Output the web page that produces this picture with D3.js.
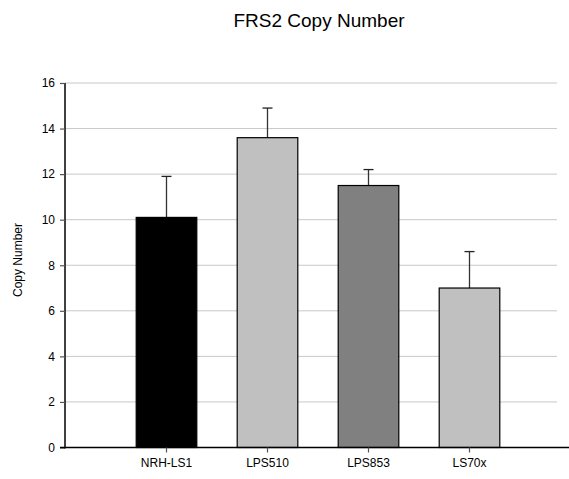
<!DOCTYPE html>
<html lang="en">
<head>
    <meta charset="utf-8">
    <title>FRS2 Copy Number</title>
    <script src="https://d3js.org/d3.v7.min.js"></script>
    <style>
        body { margin: 0; background: #fff; }
        svg { display: block; font-family: "Liberation Sans", Arial, sans-serif; }
    </style>
</head>
<body>
<script>
// data
var categories = ["NRH-LS1", "LPS510", "LPS853", "LS70x"];
var copyNumber = [10.1, 13.6, 11.5, 7.0];
var errorUp = [1.8, 1.3, 0.7, 1.6];
var barColors = ["#000000", "#c0c0c0", "#808080", "#c0c0c0"];
var yTicks = [0, 2, 4, 6, 8, 10, 12, 14, 16];

var width = 569, height = 479;
// plot edges (note: "top" is reserved on window, so use plot* names)
var plotLeft = 65, plotRight = 569, plotTop = 83, plotBottom = 447.5;

var svg = d3.select("body").append("svg")
    .attr("width", width)
    .attr("height", height);

var x = d3.scaleBand()
    .domain(categories)
    .range([116, 520])
    .paddingInner(0.4)
    .paddingOuter(0.2);

var y = d3.scaleLinear()
    .domain([0, 16])
    .range([plotBottom, plotTop]);

// gridlines
svg.append("g")
  .selectAll("line")
  .data(yTicks.filter(function(d){ return d > 0; }))
  .enter().append("line")
  .attr("x1", plotLeft).attr("x2", 557)
  .attr("y1", function(d){ return y(d); })
  .attr("y2", function(d){ return y(d); })
  .attr("stroke", "#c8c8c8")
  .attr("stroke-width", 1);

var rows = categories.map(function(c, i){
    return {name: c, v: copyNumber[i], e: errorUp[i], color: barColors[i]};
});

// error bars (behind bars)
var err = svg.append("g").selectAll("g").data(rows).enter().append("g");
err.append("line")
  .attr("x1", function(d){ return x(d.name) + x.bandwidth() / 2; })
  .attr("x2", function(d){ return x(d.name) + x.bandwidth() / 2; })
  .attr("y1", function(d){ return y(d.v); })
  .attr("y2", function(d){ return y(d.v + d.e); })
  .attr("stroke", "#333").attr("stroke-width", 1.3);
err.append("line")
  .attr("x1", function(d){ return x(d.name) + x.bandwidth() / 2 - 5; })
  .attr("x2", function(d){ return x(d.name) + x.bandwidth() / 2 + 5; })
  .attr("y1", function(d){ return y(d.v + d.e); })
  .attr("y2", function(d){ return y(d.v + d.e); })
  .attr("stroke", "#222").attr("stroke-width", 1.3);

// bars
svg.append("g").selectAll("rect").data(rows).enter().append("rect")
  .attr("x", function(d){ return x(d.name); })
  .attr("y", function(d){ return y(d.v); })
  .attr("width", x.bandwidth())
  .attr("height", function(d){ return y(0) - y(d.v); })
  .attr("fill", function(d){ return d.color; })
  .attr("stroke", "#000")
  .attr("stroke-width", 1.2);

// y axis
var yAxis = svg.append("g")
  .attr("transform", "translate(" + plotLeft + ",0)")
  .call(d3.axisLeft(y).tickValues(yTicks).tickSize(5).tickPadding(5));
yAxis.select(".domain").attr("stroke", "#000").attr("stroke-width", 1.5)
  .attr("d", "M0," + (plotBottom + 1) + "V" + plotTop);
yAxis.selectAll(".tick line").attr("stroke", "#555").attr("stroke-width", 1.2);
yAxis.selectAll("text").attr("font-size", 12).attr("fill", "#000")
  .attr("font-family", "Liberation Sans, Arial, sans-serif");

// x axis
var xAxis = svg.append("g")
  .attr("transform", "translate(0," + plotBottom + ")")
  .call(d3.axisBottom(x).tickSize(5).tickPadding(6));
xAxis.select(".domain").attr("stroke", "#000").attr("stroke-width", 1.5)
  .attr("d", "M60,0H" + plotRight);
xAxis.selectAll(".tick line").attr("stroke", "#555").attr("stroke-width", 1.2);
xAxis.selectAll("text").attr("font-size", 12).attr("fill", "#000")
  .attr("font-family", "Liberation Sans, Arial, sans-serif");

// y label
svg.append("text")
  .attr("transform", "translate(22,260) rotate(-90)")
  .attr("text-anchor", "middle")
  .attr("font-size", 12)
  .text("Copy Number");

// title
svg.append("text")
  .attr("x", 319).attr("y", 27)
  .attr("text-anchor", "middle")
  .attr("font-size", 19)
  .text("FRS2 Copy Number");
</script>
</body>
</html>
